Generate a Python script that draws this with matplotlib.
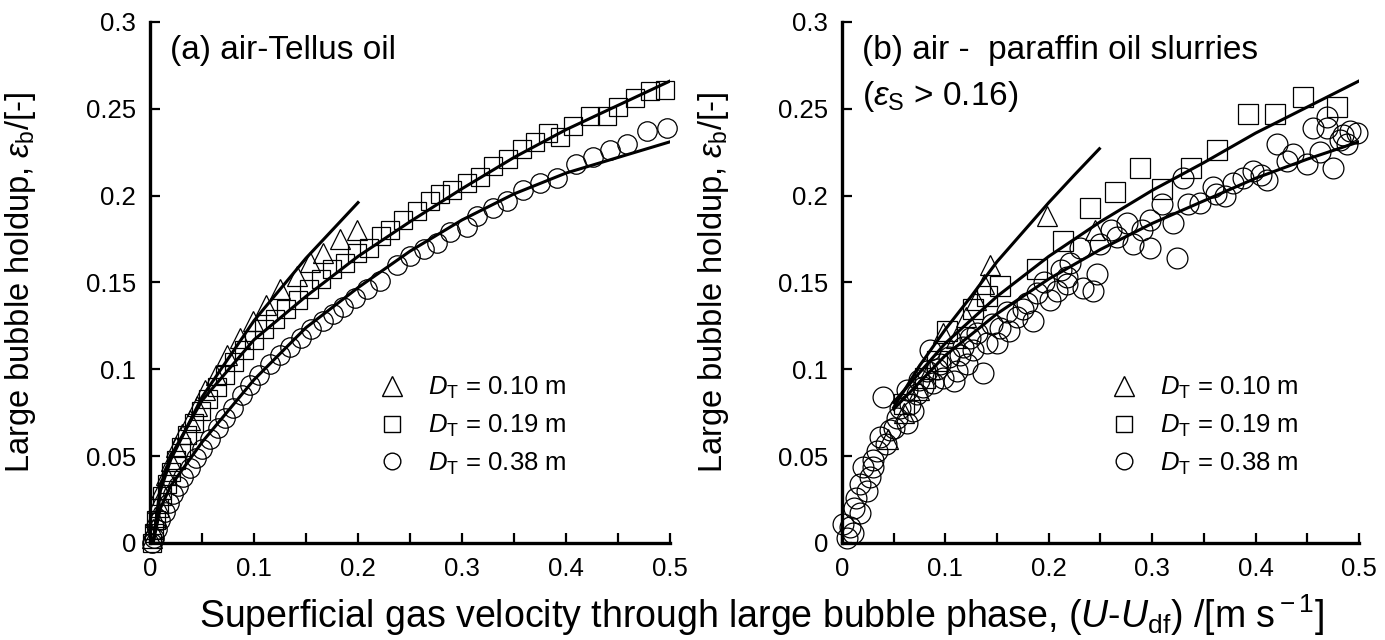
import numpy as np
import matplotlib
matplotlib.use("Agg")
import matplotlib.pyplot as plt
from matplotlib.lines import Line2D
from matplotlib.ticker import MultipleLocator

plt.rcParams['font.family'] = ['Liberation Sans', 'DejaVu Sans']
plt.rcParams['mathtext.fontset'] = 'custom'
plt.rcParams['mathtext.rm'] = 'Liberation Sans'
plt.rcParams['mathtext.it'] = 'Liberation Sans:italic'

# ---------- (a) air-Tellus oil ----------
a_tri_x = [0.002, 0.003, 0.005, 0.008, 0.011, 0.015, 0.020, 0.025, 0.031, 0.038, 0.045, 0.053,
           0.063, 0.074, 0.087, 0.099, 0.112, 0.125, 0.141, 0.154, 0.166, 0.183, 0.199]
a_tri_y = [0.003, 0.008, 0.015, 0.023, 0.031, 0.039, 0.047, 0.055, 0.063, 0.071, 0.079, 0.088,
           0.097, 0.108, 0.118, 0.128, 0.137, 0.146, 0.154, 0.162, 0.167, 0.175, 0.180]

a_sq_x = [0.002, 0.004, 0.006, 0.009, 0.012, 0.016, 0.020, 0.025, 0.030, 0.036, 0.042, 0.049,
          0.056, 0.064, 0.072, 0.081, 0.090, 0.100, 0.110, 0.120, 0.131, 0.142, 0.153, 0.164,
          0.175, 0.187, 0.199, 0.211, 0.222, 0.231, 0.243, 0.257, 0.269, 0.279, 0.290, 0.305,
          0.317, 0.330, 0.344, 0.358, 0.370, 0.383, 0.394, 0.407, 0.423, 0.439, 0.450, 0.466,
          0.481, 0.495]
a_sq_y = [0.000, 0.006, 0.013, 0.020, 0.027, 0.034, 0.041, 0.048, 0.055, 0.062, 0.069, 0.076,
          0.083, 0.090, 0.097, 0.104, 0.111, 0.117, 0.123, 0.129, 0.135, 0.140, 0.146, 0.152,
          0.158, 0.161, 0.167, 0.170, 0.177, 0.180, 0.186, 0.191, 0.197, 0.201, 0.203, 0.207,
          0.211, 0.217, 0.221, 0.227, 0.231, 0.236, 0.234, 0.240, 0.246, 0.246, 0.251, 0.256,
          0.260, 0.261]

a_ci_x = [0.002, 0.004, 0.007, 0.010, 0.014, 0.018, 0.022, 0.027, 0.032, 0.038, 0.044, 0.050,
          0.058, 0.065, 0.072, 0.080, 0.088, 0.096, 0.105, 0.115, 0.125, 0.135, 0.145, 0.155,
          0.166, 0.176, 0.186, 0.197, 0.209, 0.221, 0.237, 0.250, 0.263, 0.276, 0.288, 0.305,
          0.314, 0.330, 0.343, 0.359, 0.375, 0.391, 0.410, 0.426, 0.442, 0.459, 0.478, 0.497]
a_ci_y = [0.000, 0.003, 0.008, 0.013, 0.018, 0.023, 0.028, 0.033, 0.038, 0.043, 0.049, 0.054,
          0.060, 0.066, 0.072, 0.078, 0.085, 0.091, 0.097, 0.103, 0.108, 0.113, 0.118, 0.123,
          0.128, 0.132, 0.136, 0.141, 0.146, 0.151, 0.160, 0.165, 0.169, 0.173, 0.179, 0.182,
          0.188, 0.193, 0.197, 0.203, 0.207, 0.210, 0.218, 0.222, 0.226, 0.230, 0.237, 0.239]

# аппроксимирующие кривые
a_fit_tri_x = [0.003, 0.01, 0.02, 0.05, 0.1, 0.15, 0.2]
a_fit_tri_y = [0.0, 0.030, 0.048, 0.084, 0.128, 0.164, 0.196]
a_fit_sq_x = [0.003, 0.01, 0.02, 0.05, 0.1, 0.15, 0.2, 0.25, 0.3, 0.35, 0.4, 0.45, 0.5]
a_fit_sq_y = [0.0, 0.033, 0.050, 0.082, 0.117, 0.142, 0.165, 0.185, 0.204, 0.222, 0.238, 0.252, 0.266]
a_fit_ci_x = [0.003, 0.01, 0.02, 0.05, 0.1, 0.15, 0.2, 0.25, 0.3, 0.35, 0.4, 0.45, 0.5]
a_fit_ci_y = [0.0, 0.020, 0.033, 0.058, 0.094, 0.124, 0.147, 0.168, 0.186, 0.201, 0.213, 0.222, 0.231]

# ---------- (b) air - paraffin oil slurries ----------
b_tri_x = [0.045, 0.060, 0.075, 0.085, 0.098, 0.110, 0.120, 0.130, 0.137, 0.143, 0.198, 0.245]
b_tri_y = [0.060, 0.075, 0.088, 0.100, 0.121, 0.118, 0.130, 0.140, 0.149, 0.160, 0.188, 0.180]

b_sq_x = [0.060, 0.080, 0.092, 0.102, 0.127, 0.140, 0.153, 0.189, 0.214, 0.240, 0.264, 0.288,
          0.310, 0.338, 0.363, 0.393, 0.419, 0.446, 0.479]
b_sq_y = [0.080, 0.095, 0.105, 0.122, 0.135, 0.142, 0.148, 0.158, 0.174, 0.193, 0.202, 0.216,
          0.204, 0.216, 0.226, 0.247, 0.247, 0.257, 0.251]

b_ci_x = [0.001, 0.008, 0.011, 0.017, 0.014, 0.024, 0.017, 0.027, 0.030, 0.020, 0.034, 0.043,
          0.037, 0.046, 0.053, 0.040, 0.056, 0.063, 0.069, 0.063, 0.073, 0.075, 0.082, 0.088,
          0.095, 0.098, 0.085, 0.104, 0.111, 0.121, 0.117, 0.127, 0.136, 0.140, 0.131, 0.150,
          0.153, 0.162, 0.169, 0.179, 0.185, 0.189, 0.201, 0.208, 0.218, 0.233, 0.221, 0.218,
          0.247, 0.243, 0.230, 0.250, 0.266, 0.276, 0.281, 0.298, 0.298, 0.310, 0.320, 0.324,
          0.330, 0.346, 0.359, 0.362, 0.378, 0.388, 0.398, 0.411, 0.421, 0.436, 0.450, 0.456,
          0.469, 0.475, 0.482, 0.491, 0.498, 0.488, 0.469, 0.005, 0.012, 0.030, 0.050, 0.066,
          0.078, 0.092, 0.108, 0.114, 0.124, 0.145, 0.160, 0.175, 0.195, 0.212, 0.260, 0.290,
          0.335, 0.370, 0.405, 0.430, 0.462, 0.485]
b_ci_y = [0.011, 0.009, 0.006, 0.017, 0.026, 0.030, 0.034, 0.038, 0.044, 0.044, 0.053, 0.057,
          0.061, 0.065, 0.072, 0.084, 0.078, 0.069, 0.076, 0.088, 0.086, 0.094, 0.099, 0.092,
          0.103, 0.095, 0.111, 0.107, 0.099, 0.103, 0.113, 0.111, 0.098, 0.115, 0.121, 0.115,
          0.124, 0.122, 0.130, 0.138, 0.128, 0.144, 0.140, 0.145, 0.149, 0.147, 0.161, 0.153,
          0.155, 0.145, 0.170, 0.172, 0.176, 0.184, 0.172, 0.170, 0.186, 0.195, 0.184, 0.164,
          0.210, 0.196, 0.205, 0.201, 0.207, 0.210, 0.214, 0.209, 0.230, 0.224, 0.218, 0.239,
          0.245, 0.216, 0.232, 0.237, 0.236, 0.230, 0.239, 0.003, 0.020, 0.048, 0.066, 0.080,
          0.090, 0.100, 0.093, 0.108, 0.118, 0.126, 0.133, 0.135, 0.150, 0.157, 0.180, 0.180,
          0.195, 0.200, 0.212, 0.220, 0.225, 0.235]

b_fit_tri_x = [0.05, 0.075, 0.1, 0.125, 0.15, 0.175, 0.2, 0.225, 0.249]
b_fit_tri_y = [0.078, 0.102, 0.123, 0.142, 0.162, 0.179, 0.196, 0.212, 0.227]
b_fit_sq_x = [0.05, 0.1, 0.15, 0.2, 0.25, 0.3, 0.35, 0.4, 0.45, 0.5]
b_fit_sq_y = [0.081, 0.115, 0.142, 0.165, 0.185, 0.203, 0.219, 0.236, 0.251, 0.266]
b_fit_ci_x = [0.05, 0.1, 0.15, 0.2, 0.25, 0.3, 0.35, 0.4, 0.45, 0.5]
b_fit_ci_y = [0.077, 0.108, 0.132, 0.152, 0.169, 0.184, 0.197, 0.210, 0.221, 0.231]

y_ticks = [0, 0.05, 0.1, 0.15, 0.2, 0.25, 0.3]
y_tick_labels = ['0', '0.05', '0.1', '0.15', '0.2', '0.25', '0.3']
x_ticks = [0, 0.1, 0.2, 0.3, 0.4, 0.5]
x_tick_labels = ['0', '0.1', '0.2', '0.3', '0.4', '0.5']
legend_labels = [r'$D_{\rm T}$ = 0.10 m', r'$D_{\rm T}$ = 0.19 m', r'$D_{\rm T}$ = 0.38 m']

fig = plt.figure(figsize=(13.85, 6.4), dpi=100)
ax1 = fig.add_axes([0.1083, 0.1516, 0.3755, 0.8141])
ax2 = fig.add_axes([0.6079, 0.1516, 0.3733, 0.8141])


def draw_panel(ax, tri, sq, ci, fits, sizes, title, leg_x):
    mk = dict(linestyle='none', markerfacecolor='none', markeredgecolor='black',
              markeredgewidth=0.9, clip_on=False)
    ax.plot(ci[0], ci[1], marker='o', markersize=sizes[2], **mk)
    ax.plot(sq[0], sq[1], marker='s', markersize=sizes[1], **mk)
    ax.plot(tri[0], tri[1], marker='^', markersize=sizes[0], **mk)
    for fx, fy in fits:
        ax.plot(fx, fy, color='black', linewidth=2.2)

    ax.set_xlim(0, 0.5)
    ax.set_ylim(0, 0.3)
    ax.spines['top'].set_visible(False)
    ax.spines['right'].set_visible(False)
    ax.spines['left'].set_linewidth(2.4)
    ax.spines['bottom'].set_linewidth(2.4)
    ax.set_yticks(y_ticks)
    ax.set_yticklabels(y_tick_labels, fontsize=18.5)
    ax.set_xticks(x_ticks)
    ax.set_xticklabels(x_tick_labels, fontsize=18.5)
    ax.xaxis.set_minor_locator(MultipleLocator(0.05))
    ax.tick_params(which='both', direction='in', length=7, width=1.6, pad=10)
    ax.set_ylabel(r'Large bubble holdup, $\varepsilon_{\rm b}$/[-]', fontsize=23.5)
    ax.yaxis.set_label_coords(-0.215, 0.5)
    ax.text(0.038, 0.975, title, transform=ax.transAxes, fontsize=24, va='top', ha='left',
            linespacing=1.5)

    handles = [Line2D([], [], linestyle='none', marker=m, markersize=s, markerfacecolor='none',
                      markeredgecolor='black', markeredgewidth=1.0)
               for m, s in [('^', 14), ('s', 12), ('o', 12)]]
    ax.legend(handles, legend_labels, loc='center left', bbox_to_anchor=(leg_x, 0.225),
              frameon=False, fontsize=18.5, handletextpad=0.9,
              labelspacing=0.45, handlelength=1.0, borderpad=0, borderaxespad=0)


draw_panel(ax1, (a_tri_x, a_tri_y), (a_sq_x, a_sq_y), (a_ci_x, a_ci_y),
           [(a_fit_tri_x, a_fit_tri_y), (a_fit_sq_x, a_fit_sq_y), (a_fit_ci_x, a_fit_ci_y)],
           (14, 12.5, 14), '(a) air-Tellus oil', 0.44)
draw_panel(ax2, (b_tri_x, b_tri_y), (b_sq_x, b_sq_y), (b_ci_x, b_ci_y),
           [(b_fit_tri_x, b_fit_tri_y), (b_fit_sq_x, b_fit_sq_y), (b_fit_ci_x, b_fit_ci_y)],
           (15, 15, 15), '(b) air -  paraffin oil slurries\n' + r'($\varepsilon_{\rm S}$ > 0.16)', 0.52)

fig.text(0.55, 0.038, r'Superficial gas velocity through large bubble phase, ($U$-$U_{\rm df}$) /[m s$^{\rm -1}$]',
         ha='center', va='center', fontsize=27)

fig.savefig('out.png', dpi=100)
